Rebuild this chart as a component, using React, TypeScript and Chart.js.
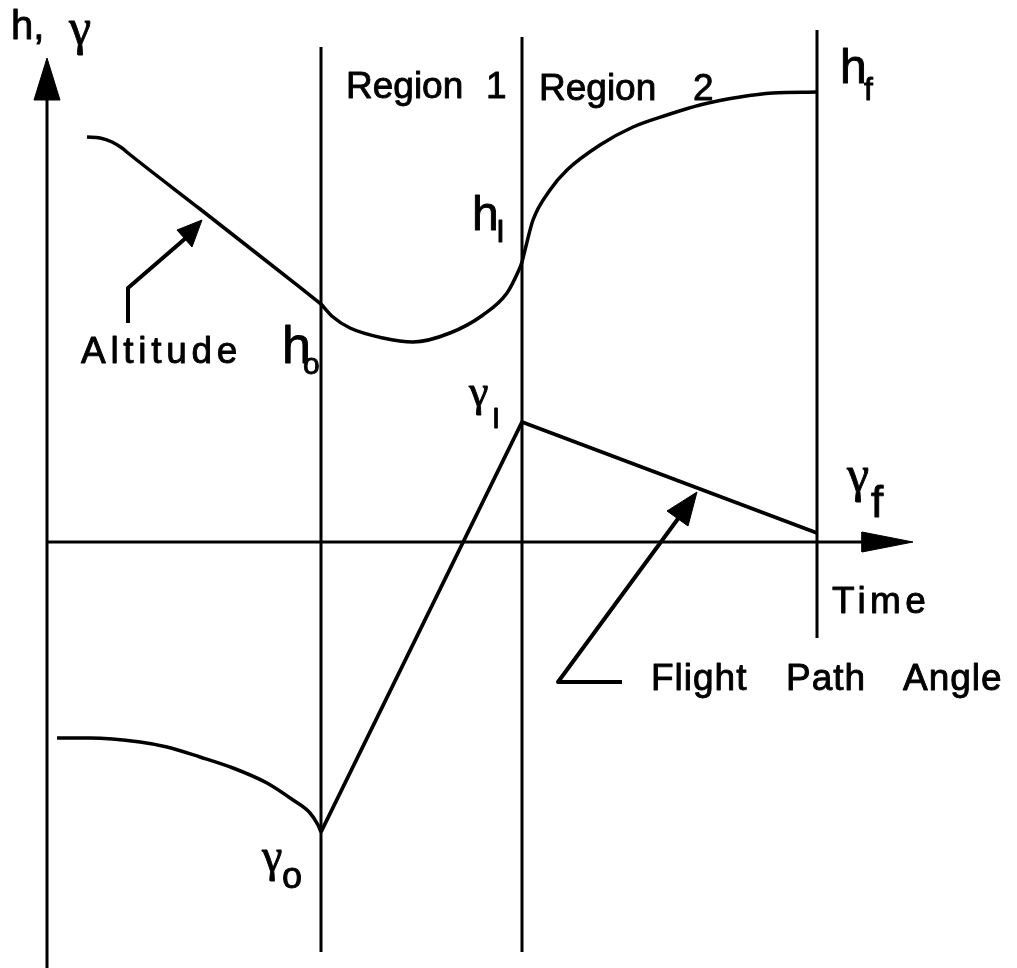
import React, { useEffect, useRef } from "react";
import { Chart, registerables } from "chart.js";

Chart.register(...registerables);

// Time (x) and value (y) units; the origin is where the two axes cross.
const regionTimes = [274, 475, 770]; // t0 (h_o, γ_o), t1 (h_I, γ_I), tf
const regionLineTops = [495, 505, 512];
const regionLineBottoms = [-410, -410, -96];

// Altitude h(t)
const altitudeApproach = [
  { x: 40, y: 405 }, { x: 53, y: 404 }, { x: 65, y: 400 }, { x: 75, y: 394 },
  { x: 81, y: 389 }, { x: 153, y: 333 }, { x: 213, y: 286 }, { x: 274, y: 238 },
];
const altitudeRegions = [
  { x: 274, y: 238 }, { x: 286, y: 225 }, { x: 303, y: 214 }, { x: 336, y: 204 },
  { x: 366, y: 200 }, { x: 403, y: 209 }, { x: 436, y: 227 }, { x: 460, y: 249 },
  { x: 471, y: 270 }, { x: 475, y: 280 }, { x: 478, y: 292 }, { x: 486, y: 322 },
  { x: 503, y: 352 }, { x: 520, y: 372 }, { x: 553, y: 397 }, { x: 586, y: 415 },
  { x: 620, y: 427 }, { x: 653, y: 437 }, { x: 693, y: 445 }, { x: 726, y: 449 },
  { x: 770, y: 450 },
];

// Flight path angle γ(t)
const gammaApproach = [
  { x: 10, y: -196 }, { x: 43, y: -196 }, { x: 93, y: -200 }, { x: 120, y: -205 },
  { x: 153, y: -215 }, { x: 186, y: -226 }, { x: 220, y: -241 }, { x: 246, y: -258 },
  { x: 263, y: -271 }, { x: 271, y: -283 }, { x: 274, y: -290 },
];
const gammaRegions = [{ x: 274, y: -290 }, { x: 475, y: 120 }, { x: 770, y: 9 }];

// Axes
const valueAxis = [{ x: 0, y: -426 }, { x: 0, y: 450 }];
const valueAxisHead = [{ x: 0, y: 484 }, { x: -13, y: 442 }, { x: 13, y: 442 }, { x: 0, y: 484 }];
const timeAxis = [{ x: 0, y: 0 }, { x: 830, y: 0 }];
const timeAxisHead = [{ x: 866, y: 0 }, { x: 815, y: 10 }, { x: 815, y: -10 }, { x: 866, y: 0 }];

// Callout pointers
const altitudePointer = [{ x: 81, y: 219 }, { x: 81, y: 254 }, { x: 140, y: 305 }];
const altitudePointerHead = [{ x: 155, y: 322 }, { x: 130, y: 312 }, { x: 145, y: 295 }, { x: 155, y: 322 }];
const gammaPointer = [{ x: 575, y: -140 }, { x: 511, y: -140 }, { x: 633, y: 26 }];
const gammaPointerHead = [{ x: 650, y: 50 }, { x: 641, y: 16 }, { x: 620, y: 31 }, { x: 650, y: 50 }];

// Texts
const axisTitles = ["h,", "γ", "Time"];
const regionTitles = ["Region", "1", "Region", "2"];
const curveTitles = ["Altitude", "Flight", "Path", "Angle"];
const pointNames = [
  { main: "h", sub: "o" },
  { main: "h", sub: "I" },
  { main: "h", sub: "f" },
  { main: "γ", sub: "I" },
  { main: "γ", sub: "o" },
  { main: "γ", sub: "f" },
];

const SANS = '"Liberation Sans", Arial, Helvetica, sans-serif';
const SERIF = '"Liberation Serif", "Times New Roman", serif';

const textPlugin = {
  id: "diagramText",
  afterDatasetsDraw(chart: any) {
    const ctx = chart.ctx as CanvasRenderingContext2D;
    const xs = chart.scales.x;
    const ys = chart.scales.y;
    const put = (s: string, t: number, v: number, font: string, spacing = 0) => {
      ctx.font = font;
      (ctx as any).letterSpacing = spacing + "px";
      const px = xs.getPixelForValue(t);
      const py = ys.getPixelForValue(v);
      ctx.fillText(s, px, py);
      ctx.strokeText(s, px, py);
    };
    ctx.save();
    ctx.fillStyle = "#000";
    ctx.strokeStyle = "#000";
    ctx.lineWidth = 0.9;
    ctx.lineJoin = "round";
    ctx.textAlign = "left";
    ctx.textBaseline = "alphabetic";

    // axis titles
    put(axisTitles[0], -36, 503, `40px ${SANS}`);
    put(axisTitles[1], 22, 498, `50px ${SERIF}`);
    put(axisTitles[2], 785, -71, `37px ${SANS}`, 4.3);

    // region titles
    put(regionTitles[0], 299, 444, `37px ${SANS}`);
    put(regionTitles[1], 439, 444, `37px ${SANS}`);
    put(regionTitles[2], 492, 442, `37px ${SANS}`);
    put(regionTitles[3], 646, 442, `37px ${SANS}`);

    // curve names
    put(curveTitles[0], 34, 179, `37px ${SANS}`, 4.7);
    put(curveTitles[1], 604, -148, `37px ${SANS}`, 1);
    put(curveTitles[2], 739, -148, `37px ${SANS}`, 1);
    put(curveTitles[3], 856, -148, `37px ${SANS}`, 1);

    // point names with subscripts
    const spots = [
      { t: 235, v: 179, f: `52px ${SANS}`, st: 256, sv: 168, sf: `30px ${SANS}` },
      { t: 425, v: 312, f: `48px ${SANS}`, st: 449, sv: 300, sf: `32px ${SANS}` },
      { t: 793, v: 459, f: `48px ${SANS}`, st: 817, sv: 442, sf: `32px ${SANS}` },
      { t: 422, v: 136, f: `44px ${SERIF}`, st: 445, sv: 114, sf: `29px ${SANS}` },
      { t: 215, v: -329, f: `46px ${SERIF}`, st: 235, sv: -346, sf: `36px ${SANS}` },
      { t: 800, v: 51, f: `50px ${SERIF}`, st: 824, sv: 25, sf: `44px ${SANS}` },
    ];
    pointNames.forEach((p, i) => {
      const s = spots[i];
      put(p.main, s.t, s.v, s.f);
      put(p.sub, s.st, s.sv, s.sf);
    });
    (ctx as any).letterSpacing = "0px";
    ctx.restore();
  },
};

function stroke(data: any[], width: number, smooth = false) {
  return {
    data,
    borderColor: "#000",
    backgroundColor: "#000",
    borderWidth: width,
    pointRadius: 0,
    fill: false,
    tension: 0,
    cubicInterpolationMode: smooth ? "monotone" : "default",
    borderJoinStyle: "round",
    borderCapStyle: "butt",
  };
}

function head(data: any[]) {
  return {
    data,
    borderColor: "#000",
    backgroundColor: "#000",
    borderWidth: 1,
    pointRadius: 0,
    fill: "shape",
    tension: 0,
  };
}

export default function App() {
  const ref = useRef<HTMLCanvasElement | null>(null);

  useEffect(() => {
    if (!ref.current) return;
    const regionLines = regionTimes.map((t, i) =>
      stroke([{ x: t, y: regionLineBottoms[i] }, { x: t, y: regionLineTops[i] }], 3)
    );
    const chart = new Chart(ref.current, {
      type: "line",
      data: {
        datasets: [
          ...regionLines,
          stroke(valueAxis, 3),
          head(valueAxisHead),
          stroke(timeAxis, 3),
          head(timeAxisHead),
          stroke(altitudeApproach, 3.5, true),
          stroke(altitudeRegions, 3.5, true),
          stroke(gammaApproach, 3.5, true),
          stroke(gammaRegions, 3.8),
          stroke(altitudePointer, 4),
          head(altitudePointerHead),
          stroke(gammaPointer, 4),
          head(gammaPointerHead),
        ] as any,
      },
      options: {
        animation: false,
        responsive: false,
        events: [],
        layout: { padding: 0 },
        scales: {
          x: { type: "linear", min: -47, max: 970, display: false },
          y: { type: "linear", min: -426, max: 542, display: false },
        },
        plugins: {
          legend: { display: false },
          tooltip: { enabled: false },
          title: { display: false },
        },
      },
      plugins: [textPlugin],
    });
    return () => chart.destroy();
  }, []);

  return (
    <div style={{ position: "absolute", left: 0, top: 0, width: 1017, height: 968, background: "#fff" }}>
      <canvas ref={ref} width={1017} height={968} style={{ display: "block" }} />
    </div>
  );
}
